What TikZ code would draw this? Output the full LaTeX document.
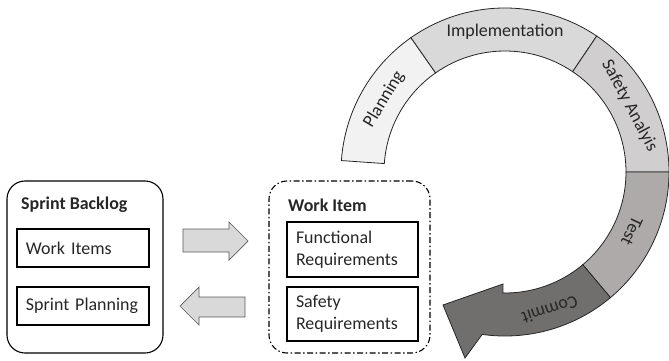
\documentclass[tikz,border=0pt]{standalone}
\usepackage{fontspec}
\setmainfont{Carlito}
\definecolor{planfill}{HTML}{F2F2F2}
\definecolor{implfill}{HTML}{D9D9D9}
\definecolor{safefill}{HTML}{D0CECE}
\definecolor{testfill}{HTML}{AEAAAA}
\definecolor{commitfill}{HTML}{716E6E}
\definecolor{arrowfill}{HTML}{D9D9D9}
\begin{document}
\begin{tikzpicture}
	[x=1bp, y=1bp,
	every node/.style={font=\fontsize{18}{22}\selectfont, text=black!85},
	titletext/.style={font=\fontsize{18}{22}\selectfont\bfseries, anchor=west, inner sep=0pt},
	outerbox/.style={draw, line width=1.1bp, rounded corners=18bp, minimum width=#1, minimum height=172bp},
	itembox/.style={draw, line width=1.1bp, text width=#1, align=left, inner xsep=9bp, inner ysep=0pt},
	blockarrow/.style={draw=black!65, line width=0.7bp, fill=arrowfill},
	ringpart/.style={draw=black!85, line width=0.8bp}]
	\useasboundingbox (0,0) rectangle (669,360);
	\node[outerbox=156bp] (backlog) at (85,93) {};
	\node[titletext] (backlogtitle) at (21,155) {Sprint Backlog};
	\node[itembox=114bp, minimum height=38bp] (workitems) at (83,112) {Work Items};
	\node[itembox=114bp, minimum height=38bp] (planning) at (83,54) {Sprint Planning};
	\node[outerbox=161bp, dash pattern=on 6bp off 2.5bp on 1.5bp off 2.5bp] (workitem) at (349.5,93) {};
	\node[titletext] (workitemtitle) at (288,155) {Work Item};
	\node[itembox=113bp, minimum height=55bp] (functional) at (352.5,110.5) {Functional\\Requirements};
	\node[itembox=113bp, minimum height=54bp] (safety) at (352.5,46) {Safety\\Requirements};
	\draw[blockarrow] (183,108) -- (229,108) -- (229,100) -- (248,119) -- (229,138) -- (229,131) -- (183,131) -- cycle;
	\draw[blockarrow] (245,43) -- (199,43) -- (199,35) -- (180,54) -- (199,73) -- (199,63) -- (245,63) -- cycle;
	\begin{scope}[shift={(505,188)}]
		\def\ringout{164}
		\def\ringin{121}
		\foreach \a/\b/\c in {176/125/planfill, 125/56/implfill, 56/0/safefill, 0/-50/testfill}
			\draw[ringpart, fill=\c] (\a:\ringout) arc[start angle=\a, end angle=\b, radius=\ringout]
				-- (\b:\ringin) arc[start angle=\b, end angle=\a, radius=\ringin] -- cycle;
		\draw[ringpart, fill=commitfill] (-50:\ringout) arc[start angle=-50, end angle=-98, radius=\ringout]
			-- (-40,-186) -- (-62,-133) -- (-2,-112) -- (-91:\ringin)
			arc[start angle=-91, end angle=-50, radius=\ringin] -- cycle;
		\node[rotate=59] (planlbl) at (149:141) {Planning};
		\node (impllbl) at (90:140) {Implementation};
		\node[rotate=-62] (safelbl) at (28:141) {Safety Analyis};
		\node[rotate=-115] (testlbl) at (-25:140) {Test};
		\node[rotate=-162] (commitlbl) at (-72:145) {Commit};
	\end{scope}
\end{tikzpicture}
\end{document}
